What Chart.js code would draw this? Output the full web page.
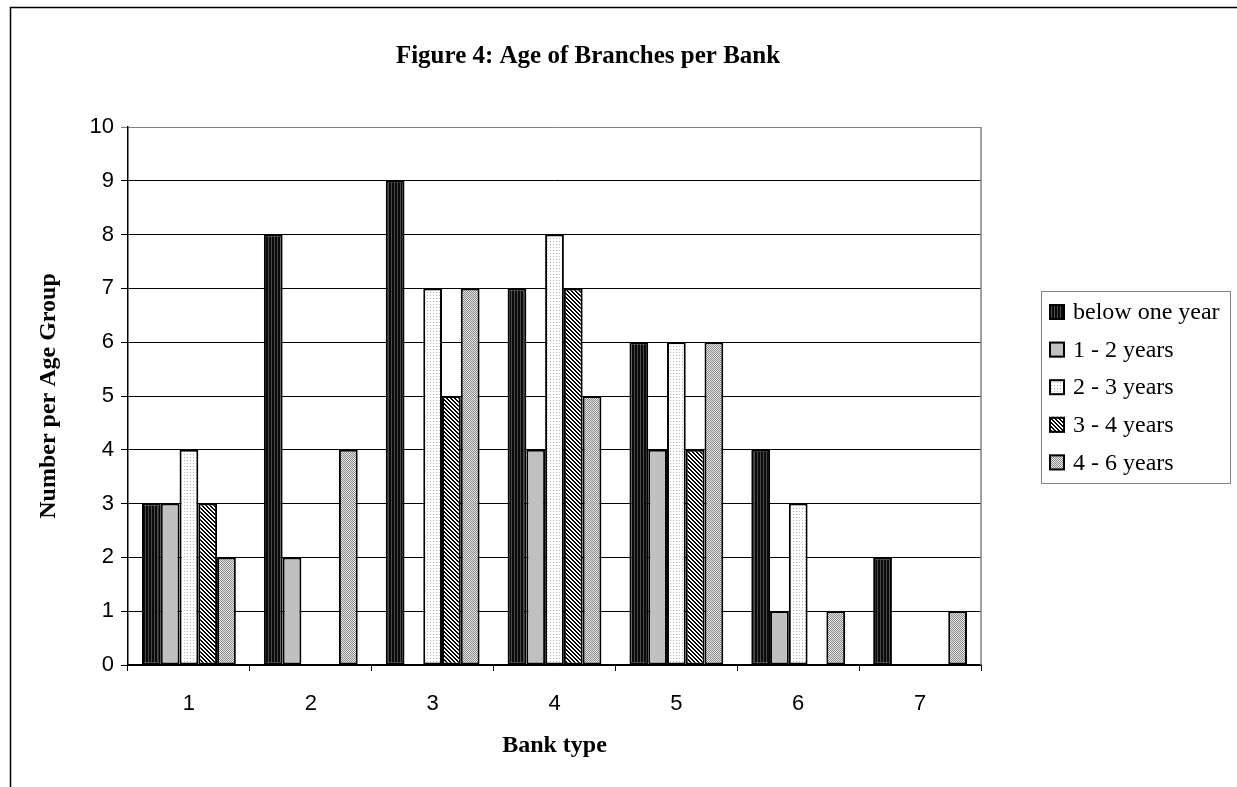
<!DOCTYPE html>
<html>
<head>
<meta charset="utf-8">
<script src="https://cdn.jsdelivr.net/npm/chart.js@4.4.0/dist/chart.umd.min.js"></script>
<style>
html, body { margin: 0; padding: 0; background: #fff; }
#wrap { width: 1237px; height: 787px; position: relative; }
</style>
</head>
<body>
<div id="wrap"><canvas id="myBarChart" width="1237" height="787"></canvas></div>
<script>
// data
var bank_types = ['1', '2', '3', '4', '5', '6', '7'];
var age_groups = ['below one year', '1 - 2 years', '2 - 3 years', '3 - 4 years', '4 - 6 years'];
var below_one_year = [3, 8, 9, 7, 6, 4, 2];
var one_two_years = [3, 2, 0, 4, 4, 1, 0];
var two_three_years = [4, 0, 7, 8, 6, 3, 0];
var three_four_years = [3, 0, 5, 7, 4, 0, 0];
var four_six_years = [2, 4, 7, 5, 6, 1, 1];
var y_min = 0, y_max = 10, y_step = 1;

var ctx = document.getElementById('myBarChart').getContext('2d');

function makePattern(size, draw) {
    var c = document.createElement('canvas');
    c.width = size;
    c.height = size;
    var g = c.getContext('2d');
    draw(g);
    return ctx.createPattern(c, 'repeat');
}

// excel-ish fill patterns
var darkFill = makePattern(3, function(g) {
    g.fillStyle = '#0a0a0a'; g.fillRect(0, 0, 3, 3);
    g.fillStyle = '#4a4a4a'; g.fillRect(1, 0, 1, 3);
});
var grayFill = '#c0c0c0';
var dotFill = makePattern(3, function(g) {
    g.fillStyle = '#ffffff'; g.fillRect(0, 0, 3, 3);
    g.fillStyle = '#b4b4b4'; g.fillRect(1, 1, 1, 1);
});
var hatchFill = makePattern(4, function(g) {
    g.fillStyle = '#ffffff'; g.fillRect(0, 0, 4, 4);
    g.fillStyle = '#000000';
    for (var y = 0; y < 4; y++) {
        g.fillRect(y % 4, y, 1, 1);
        g.fillRect((y + 1) % 4, y, 1, 1);
    }
});
var checkFill = makePattern(2, function(g) {
    g.fillStyle = '#e6e6e6'; g.fillRect(0, 0, 2, 2);
    g.fillStyle = '#8a8a8a'; g.fillRect(0, 0, 1, 1); g.fillRect(1, 1, 1, 1);
});

var series = [below_one_year, one_two_years, two_three_years, three_four_years, four_six_years];
var fills = [darkFill, grayFill, dotFill, hatchFill, checkFill];

var datasets = series.map(function(vals, i) {
    return {
        label: age_groups[i],
        data: vals,
        backgroundColor: fills[i],
        borderColor: '#000',
        borderWidth: 2,
        borderSkipped: false,
        categoryPercentage: 0.77,
        barPercentage: 1.0
    };
});

var frameAndTitle = {
    id: 'frameAndTitle',
    beforeDraw: function(chart) {
        var c = chart.ctx;
        c.save();
        c.fillStyle = '#fff';
        c.fillRect(0, 0, chart.width, chart.height);
        c.strokeStyle = '#000';
        c.lineWidth = 1.5;
        c.beginPath();
        c.moveTo(10.5, chart.height);
        c.lineTo(10.5, 7.5);
        c.lineTo(chart.width, 7.5);
        c.stroke();
        c.fillStyle = '#000';
        c.font = 'bold 25px "Liberation Serif"';
        c.textAlign = 'center';
        c.textBaseline = 'alphabetic';
        c.fillText('Figure 4: Age of Branches per Bank', 588, 63);
        c.restore();
    },
    afterDraw: function(chart) {
        var c = chart.ctx, a = chart.chartArea;
        c.save();
        // gray right edge of plot area
        c.strokeStyle = '#808080';
        c.lineWidth = 1.5;
        c.beginPath();
        c.moveTo(a.right, a.top);
        c.lineTo(a.right, a.bottom);
        c.stroke();

        // legend box
        var x0 = a.right + 60, y0 = 291, w = 189, h = 192;
        c.strokeStyle = '#808080';
        c.lineWidth = 1;
        c.strokeRect(x0 + 0.5, y0 + 0.5, w, h);
        c.font = '24px "Liberation Serif"';
        c.textBaseline = 'middle';
        c.textAlign = 'left';
        chart.data.datasets.forEach(function(ds, i) {
            var cy = y0 + 21 + i * 37.6;
            c.fillStyle = ds.backgroundColor;
            c.fillRect(x0 + 8, cy - 8, 16, 16);
            c.strokeStyle = '#000';
            c.lineWidth = 2;
            c.strokeRect(x0 + 9, cy - 7, 14, 14);
            c.fillStyle = '#000';
            c.fillText(ds.label, x0 + 32, cy + 1);
        });
        c.restore();
    }
};

var myChart = new Chart(ctx, {
    type: 'bar',
    data: {
        labels: bank_types,
        datasets: datasets
    },
    options: {
        responsive: false,
        animation: false,
        layout: {
            padding: { top: 127, right: 256, left: 0, bottom: 0 }
        },
        plugins: {
            legend: { display: false },
            title: { display: false },
            tooltip: { enabled: false }
        },
        scales: {
            x: {
                grid: {
                    display: true,
                    drawOnChartArea: false,
                    drawTicks: true,
                    tickLength: 6,
                    color: '#000',
                    offset: true
                },
                border: { display: true, color: '#000', width: 1.5 },
                ticks: {
                    color: '#000',
                    font: { family: 'Liberation Sans', size: 22 },
                    padding: 20
                },
                title: {
                    display: true,
                    text: 'Bank type',
                    color: '#000',
                    font: { family: 'Liberation Serif', size: 24, weight: 'bold' },
                    padding: { top: 0, bottom: 27 }
                },
                afterFit: function(scale) { scale.height = 122; }
            },
            y: {
                min: y_min,
                max: y_max,
                ticks: {
                    stepSize: y_step,
                    color: '#000',
                    font: { family: 'Liberation Sans', size: 22 },
                    padding: 7
                },
                grid: {
                    color: function(c) { return c.tick && c.tick.value === y_max ? '#808080' : '#000'; },
                    lineWidth: 1,
                    tickLength: 7,
                    drawTicks: true
                },
                border: { display: true, color: '#000', width: 1.5 },
                title: {
                    display: true,
                    text: 'Number per Age Group',
                    color: '#000',
                    font: { family: 'Liberation Serif', size: 24, weight: 'bold' },
                    padding: { top: 34, bottom: 0 }
                },
                afterFit: function(scale) { scale.width = 128; }
            }
        }
    },
    plugins: [frameAndTitle]
});
</script>
</body>
</html>
